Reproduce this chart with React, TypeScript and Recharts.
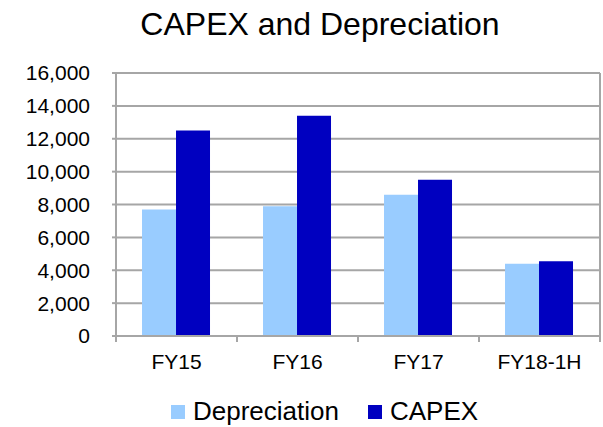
import React from 'react';
import { BarChart, Bar, XAxis, YAxis, CartesianGrid, Legend } from 'recharts';

const categories = ['FY15', 'FY16', 'FY17', 'FY18-1H'];
const seriesNames = ['Depreciation', 'CAPEX'];
const depreciation = [7700, 7900, 8600, 4400];
const capex = [12500, 13400, 9500, 4550];
const yTicks = [0, 2000, 4000, 6000, 8000, 10000, 12000, 14000, 16000];

const data = categories.map((name, i) => ({
  name,
  Depreciation: depreciation[i],
  CAPEX: capex[i],
}));

const FONT = '"Liberation Sans", Arial, sans-serif';
const GRID = '#a6a6a6';

// tick marks sit on the category boundaries, labels in the middle
const CategoryTick = (props: any) => {
  const { x, y, payload, index, visibleTicksCount } = props;
  const half = payload.offset || 0;
  const last = index === visibleTicksCount - 1;
  return (
    <g>
      <line x1={x - half} x2={x - half} y1={y} y2={y + 6} stroke={GRID} strokeWidth={2} />
      {last && <line x1={x + half} x2={x + half} y1={y} y2={y + 6} stroke={GRID} strokeWidth={2} />}
      <text x={x} y={y + 18} dy="0.71em" textAnchor="middle" fill="#000" fontSize={21} fontFamily={FONT}>
        {payload.value}
      </text>
    </g>
  );
};

const LegendContent = (props: any) => {
  const items = [...(props.payload || [])].sort(
    (a: any, b: any) => seriesNames.indexOf(a.value) - seriesNames.indexOf(b.value)
  );
  return (
    <div style={{ display: 'flex', alignItems: 'center', height: 30, fontFamily: FONT, fontSize: 26, lineHeight: '30px', color: '#000' }}>
      {items.map((entry: any, i: number) => (
        <div key={entry.value} style={{ display: 'flex', alignItems: 'center', marginLeft: i === 0 ? 0 : 29 }}>
          <span style={{ display: 'inline-block', width: 14, height: 14, background: entry.color, marginRight: 8, marginTop: 2 }} />
          <span style={{ whiteSpace: 'nowrap' }}>{entry.value}</span>
        </div>
      ))}
    </div>
  );
};

const App: React.FC = () => {
  return (
    <div style={{ position: 'absolute', left: 0, top: 0, width: 603, height: 427, background: '#fff', fontFamily: FONT }}>
      <div
        style={{
          position: 'absolute',
          left: 120,
          width: 400,
          top: 8,
          textAlign: 'center',
          fontSize: 32,
          lineHeight: '32px',
          color: '#000',
          whiteSpace: 'nowrap',
        }}
      >
        CAPEX and Depreciation
      </div>
      <BarChart
        width={603}
        height={427}
        data={data}
        margin={{ top: 73, right: 3, left: 16, bottom: 1 }}
        barCategoryGap="21.5%"
        barGap={0}
      >
        <CartesianGrid
          stroke={GRID}
          strokeWidth={2}
          verticalCoordinatesGenerator={({ offset }: any) => [offset.left + offset.width]}
        />
        <XAxis
          dataKey="name"
          height={60}
          axisLine={{ stroke: GRID, strokeWidth: 2 }}
          tickLine={false}
          tickSize={0}
          tickMargin={0}
          interval={0}
          tick={<CategoryTick />}
        />
        <YAxis
          width={100}
          domain={[0, 16000]}
          ticks={yTicks}
          interval={0}
          tickSize={4}
          tickMargin={22}
          tickFormatter={(v: number) => v.toLocaleString('en-US')}
          axisLine={{ stroke: GRID, strokeWidth: 2 }}
          tickLine={{ stroke: GRID, strokeWidth: 2 }}
          tick={{ fill: '#000', fontSize: 21, fontFamily: FONT }}
        />
        <Legend
          verticalAlign="bottom"
          height={30}
          content={<LegendContent />}
          wrapperStyle={{ left: 171, width: 340 }}
        />
        <Bar dataKey="Depreciation" fill="#99ccff" isAnimationActive={false} />
        <Bar dataKey="CAPEX" fill="#0000c0" isAnimationActive={false} />
      </BarChart>
    </div>
  );
};

export default App;
